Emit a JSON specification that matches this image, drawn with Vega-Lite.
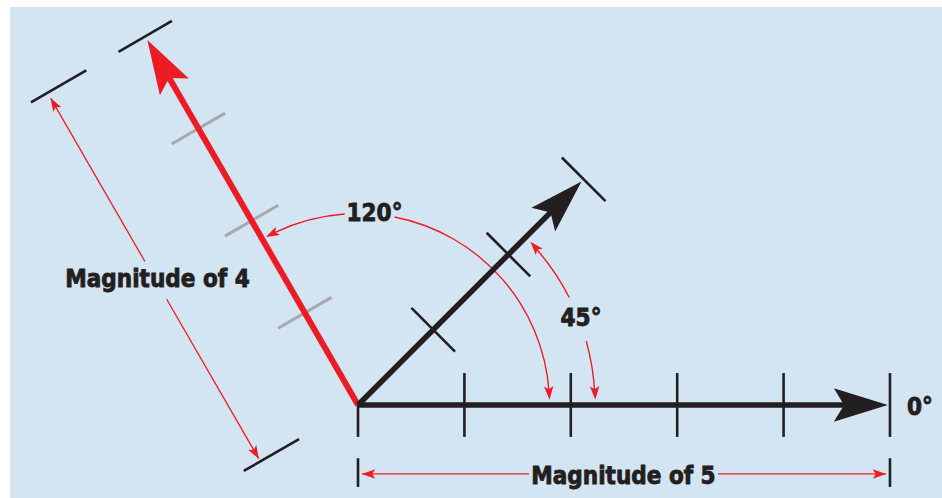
{
  "$schema": "https://vega.github.io/schema/vega-lite/v6.json",
  "width": 942,
  "height": 498,
  "autosize": {"type": "fit", "contains": "padding"},
  "padding": 0,
  "background": "#ffffff",
  "config": {"view": {"stroke": null}},
  "datasets": {
    "panel": [{"x": -3.271, "y": 3.740, "x2": 5.489, "y2": -0.874}],
    "grayTicks": [
      {"x": -0.751, "y": 0.721, "x2": -0.249, "y2": 1.011},
      {"x": -1.251, "y": 1.587, "x2": -0.749, "y2": 1.877},
      {"x": -1.751, "y": 2.453, "x2": -1.249, "y2": 2.743}
    ],
    "redVector": [{"x": 0, "y": 0, "x2": -1.8, "y2": 3.118}],
    "blackVectors": [
      {"x": 0, "y": 0, "x2": 4.6, "y2": 0},
      {"x": 0, "y": 0, "x2": 1.874, "y2": 1.874}
    ],
    "blackTicks": [
      {"x": 0, "y": -0.3, "x2": 0, "y2": 0},
      {"x": 1, "y": -0.3, "x2": 1, "y2": 0.3},
      {"x": 2, "y": -0.3, "x2": 2, "y2": 0.3},
      {"x": 3, "y": -0.3, "x2": 3, "y2": 0.3},
      {"x": 4, "y": -0.3, "x2": 4, "y2": 0.3},
      {"x": 5, "y": -0.3, "x2": 5, "y2": 0.3},
      {"x": 0.502, "y": 0.912, "x2": 0.912, "y2": 0.502},
      {"x": 1.209, "y": 1.619, "x2": 1.619, "y2": 1.209},
      {"x": 1.916, "y": 2.326, "x2": 2.326, "y2": 1.916},
      {"x": -2.251, "y": 3.319, "x2": -1.749, "y2": 3.609},
      {"x": -0.554, "y": -0.32, "x2": -1.074, "y2": -0.62},
      {"x": -2.554, "y": 3.144, "x2": -3.074, "y2": 2.844},
      {"x": 0, "y": -0.5, "x2": 0, "y2": -0.77},
      {"x": 5, "y": -0.5, "x2": 5, "y2": -0.77}
    ],
    "dimLines": [
      {"x": 0.038, "y": -0.648, "x2": 1.607, "y2": -0.648},
      {"x": 3.383, "y": -0.648, "x2": 4.962, "y2": -0.648},
      {"x": -0.933, "y": -0.504, "x2": -1.798, "y2": 0.994},
      {"x": -2.003, "y": 1.349, "x2": -2.888, "y2": 2.882}
    ],
    "arcs120": [
      {"x": 0, "y": 0, "t0": -0.4538, "t1": -0.0698},
      {"x": 0, "y": 0, "t0": 0.192, "t1": 1.501}
    ],
    "arcs45": [
      {"x": 0, "y": 0, "t0": 0.855, "t1": 1.100},
      {"x": 0, "y": 0, "t0": 1.298, "t1": 1.527}
    ],
    "smallHeads": [
      {"x": 0.099, "y": -0.648, "direction": 270},
      {"x": 4.901, "y": -0.648, "direction": 90},
      {"x": -2.858, "y": 2.830, "direction": -30},
      {"x": -0.963, "y": -0.452, "direction": 150},
      {"x": -0.809, "y": 1.608, "direction": -116.7},
      {"x": 1.796, "y": 0.113, "direction": 176.4},
      {"x": 1.662, "y": 1.486, "direction": -41.8},
      {"x": 2.227, "y": 0.113, "direction": 177.1}
    ],
    "blackHeads": [
      {"x": 4.726, "y": 0, "direction": 90},
      {"x": 1.921, "y": 1.921, "direction": 45}
    ],
    "redHeads": [{"x": -1.853, "y": 3.210, "direction": -30}],
    "labels": [
      {"x": -1.885, "y": 1.108, "label": "Magnitude of 4"},
      {"x": 2.495, "y": -0.741, "label": "Magnitude of 5"},
      {"x": 0.155, "y": 1.728, "label": "120°"},
      {"x": 2.096, "y": 0.741, "label": "45°"},
      {"x": 5.282, "y": -0.095, "label": "0°"}
    ]
  },
  "encoding": {
    "x": {"field": "x", "type": "quantitative", "scale": {"domain": [-3.365, 5.489], "nice": false, "zero": false}, "axis": null},
    "y": {"field": "y", "type": "quantitative", "scale": {"domain": [-0.874, 3.806], "nice": false, "zero": false}, "axis": null}
  },
  "layer": [
    {
      "data": {"name": "panel"},
      "mark": {"type": "rect", "color": "#d3e4f3"},
      "encoding": {"x2": {"field": "x2"}, "y2": {"field": "y2"}}
    },
    {
      "data": {"name": "arcs120"},
      "mark": {"type": "arc", "innerRadius": 190.8, "outerRadius": 192.2, "color": "#ed1c24"},
      "encoding": {
        "theta": {"field": "t0", "type": "quantitative", "scale": null, "stack": null},
        "theta2": {"field": "t1"}
      }
    },
    {
      "data": {"name": "arcs45"},
      "mark": {"type": "arc", "innerRadius": 236.3, "outerRadius": 237.7, "color": "#ed1c24"},
      "encoding": {
        "theta": {"field": "t0", "type": "quantitative", "scale": null, "stack": null},
        "theta2": {"field": "t1"}
      }
    },
    {
      "data": {"name": "dimLines"},
      "mark": {"type": "rule", "color": "#ed1c24", "strokeWidth": 1.3},
      "encoding": {"x2": {"field": "x2"}, "y2": {"field": "y2"}}
    },
    {
      "data": {"name": "smallHeads"},
      "mark": {"type": "point", "shape": "M0,-1L0.7,1L0,0.55L-0.7,1Z", "filled": true, "size": 180, "color": "#ed1c24", "opacity": 1, "strokeWidth": 0},
      "encoding": {"angle": {"field": "direction", "type": "quantitative", "scale": null}}
    },
    {
      "data": {"name": "grayTicks"},
      "mark": {"type": "rule", "color": "#a7a9ac", "strokeWidth": 3},
      "encoding": {"x2": {"field": "x2"}, "y2": {"field": "y2"}}
    },
    {
      "data": {"name": "redVector"},
      "mark": {"type": "rule", "color": "#ed1c24", "strokeWidth": 6},
      "encoding": {"x2": {"field": "x2"}, "y2": {"field": "y2"}}
    },
    {
      "data": {"name": "blackVectors"},
      "mark": {"type": "rule", "color": "#231f20", "strokeWidth": 5.5},
      "encoding": {"x2": {"field": "x2"}, "y2": {"field": "y2"}}
    },
    {
      "data": {"name": "blackTicks"},
      "mark": {"type": "rule", "color": "#231f20", "strokeWidth": 2.6},
      "encoding": {"x2": {"field": "x2"}, "y2": {"field": "y2"}}
    },
    {
      "data": {"name": "redHeads"},
      "mark": {"type": "point", "shape": "M0,-1L0.62,1L0,0.62L-0.62,1Z", "filled": true, "size": 2916, "color": "#ed1c24", "opacity": 1, "strokeWidth": 0},
      "encoding": {"angle": {"field": "direction", "type": "quantitative", "scale": null}}
    },
    {
      "data": {"name": "blackHeads"},
      "mark": {"type": "point", "shape": "M0,-1L0.62,1L0,0.62L-0.62,1Z", "filled": true, "size": 2916, "color": "#231f20", "opacity": 1, "strokeWidth": 0},
      "encoding": {"angle": {"field": "direction", "type": "quantitative", "scale": null}}
    },
    {
      "data": {"name": "labels"},
      "mark": {"type": "text", "font": "DejaVu Sans Condensed, sans-serif", "fontWeight": "bold", "fontSize": 24, "color": "#231f20", "stroke": "#231f20", "strokeWidth": 0.8, "align": "center", "baseline": "alphabetic"},
      "encoding": {"text": {"field": "label"}}
    }
  ]
}
